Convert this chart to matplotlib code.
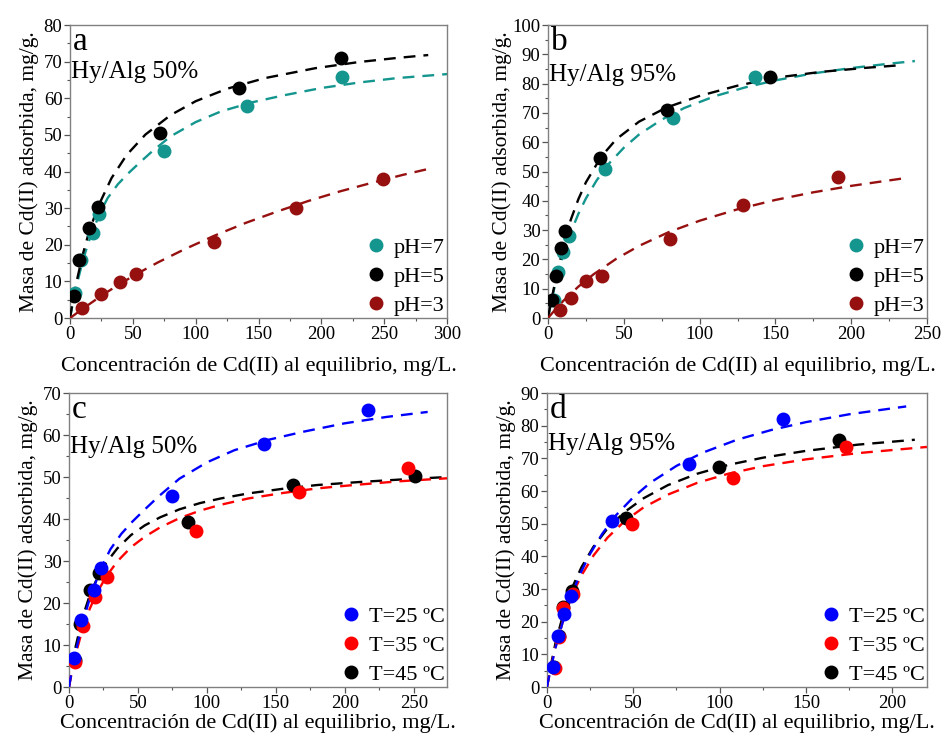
import matplotlib
matplotlib.use("Agg")
import matplotlib.pyplot as plt
from matplotlib.lines import Line2D
from matplotlib.ticker import MultipleLocator

plt.rcParams['font.family'] = ['Liberation Serif', 'DejaVu Serif']

# --- datos experimentales: Ce (mg/L) y qe (mg/g) ---
# Hy/Alg 50 %, efecto del pH (T = 25 ºC)
ce_50_ph7 = [3.6, 8.9, 18.0, 23.3, 74.6, 141.0, 216.4]
qe_50_ph7 = [6.8, 15.9, 23.1, 28.4, 45.5, 57.9, 65.9]
ce_50_ph5 = [3.2, 7.2, 15.4, 22.0, 71.6, 134.7, 215.3]
qe_50_ph5 = [6.1, 15.8, 24.7, 30.4, 50.6, 62.8, 70.9]
ce_50_ph3 = [9.3, 24.4, 39.8, 52.3, 114.6, 179.8, 248.8]
qe_50_ph3 = [2.6, 6.6, 9.9, 11.9, 20.8, 30.0, 38.0]

# Hy/Alg 95 %, efecto del pH
ce_95_ph7 = [3.7, 6.6, 9.8, 13.7, 37.5, 82.5, 136.6]
qe_95_ph7 = [6.2, 15.6, 22.5, 28.0, 50.7, 68.4, 82.2]
ce_95_ph5 = [2.6, 5.5, 8.7, 11.5, 34.3, 78.3, 146.4]
qe_95_ph5 = [6.0, 14.3, 23.8, 29.7, 54.7, 71.0, 82.3]
ce_95_ph3 = [7.9, 15.2, 25.1, 35.6, 80.5, 128.8, 191.5]
qe_95_ph3 = [2.7, 6.7, 12.6, 14.3, 26.8, 38.5, 48.0]

# Hy/Alg 50 %, efecto de la temperatura (pH = 7)
ce_50_t25, qe_50_t25 = ce_50_ph7, qe_50_ph7
ce_50_t35 = [4.3, 10.0, 18.9, 27.4, 92.0, 166.4, 245.9]
qe_50_t35 = [6.0, 14.6, 21.5, 26.2, 37.2, 46.4, 52.2]
ce_50_t45 = [4.0, 8.0, 15.5, 22.0, 86.5, 162.6, 250.8]
qe_50_t45 = [6.5, 14.9, 23.1, 27.2, 39.4, 48.1, 50.2]

# Hy/Alg 95 %, efecto de la temperatura
ce_95_t25, qe_95_t25 = ce_95_ph7, qe_95_ph7
ce_95_t35 = [4.6, 7.0, 9.5, 15.2, 49.3, 107.9, 173.1]
qe_95_t35 = [5.7, 15.2, 24.1, 28.5, 50.0, 63.9, 73.6]
ce_95_t45 = [4.0, 7.0, 9.4, 14.3, 45.7, 99.8, 169.1]
qe_95_t45 = [6.0, 15.5, 24.6, 29.3, 51.6, 67.4, 75.6]

# --- curvas de ajuste (isotermas) ---
fit_50_ph7_c = [0, 3, 6, 10, 15, 20, 25, 30, 38, 46, 55, 65, 80, 100, 120, 145, 170, 200, 230, 260, 300]
fit_50_ph7_q = [0, 5.5, 10, 15.5, 21, 25.5, 29.5, 32.8, 36.5, 39.4, 42.3, 45.4, 49.6, 53.5, 56.4, 58.9, 60.8, 62.8, 64.3, 65.5, 66.6]
fit_50_ph5_c = [0, 2, 5, 10, 15, 22, 33, 45, 60, 80, 100, 125, 155, 195, 230, 260, 285]
fit_50_ph5_q = [0, 4.2, 9.6, 17.2, 23.4, 30.2, 38.2, 44.5, 50.1, 55.4, 59.2, 62.6, 65.5, 68.2, 69.9, 71.0, 71.8]
fit_50_ph3_c = [0, 10, 25, 40, 55, 70, 90, 115, 140, 165, 190, 215, 240, 265, 285]
fit_50_ph3_q = [0, 2.5, 6.1, 9.4, 12.4, 15.2, 18.6, 22.5, 26.0, 29.1, 32.0, 34.6, 36.9, 39.1, 40.7]

fit_95_ph7_c = [0, 2, 5, 10, 15, 20, 25, 32, 40, 50, 60, 75, 90, 110, 130, 150, 175, 200, 225, 242]
fit_95_ph7_q = [0, 5.2, 12.1, 21.5, 29.2, 35.5, 40.8, 46.9, 52.6, 58.1, 62.6, 67.7, 71.7, 75.7, 78.7, 81.1, 83.5, 85.3, 86.8, 87.7]
fit_95_ph5_c = [0, 2, 5, 10, 15, 20, 25, 35, 45, 60, 78, 100, 125, 150, 180, 210, 233]
fit_95_ph5_q = [0, 5.5, 13, 24, 33.5, 40.5, 46.3, 55, 61, 67, 71.8, 75.8, 79.3, 82, 84.0, 85.4, 86.3]
fit_95_ph3_c = [0, 5, 10, 20, 30, 45, 60, 80, 100, 125, 150, 175, 200, 220, 235]
fit_95_ph3_q = [0, 3.0, 5.8, 10.7, 14.9, 20.2, 24.6, 29.4, 33.2, 37.1, 40.3, 42.9, 45.1, 46.6, 47.7]

fit_50_t25_c = fit_50_ph7_c[:-1]
fit_50_t25_q = fit_50_ph7_q[:-1]
fit_50_t35_c = [0, 2, 5, 10, 15, 20, 27, 35, 45, 55, 66, 80, 95, 110, 130, 155, 180, 210, 240, 274]
fit_50_t35_q = [0, 3.5, 8.0, 14.0, 18.6, 22.3, 26.3, 29.9, 33.3, 35.8, 38.0, 40.2, 42.0, 43.4, 44.9, 46.2, 47.3, 48.2, 49.0, 49.7]
fit_50_t45_c = fit_50_t35_c
fit_50_t45_q = [0, 4.5, 9.9, 16.8, 21.8, 25.6, 29.6, 33.0, 36.2, 38.5, 40.4, 42.3, 43.8, 44.9, 46.1, 47.2, 48.1, 48.8, 49.4, 50.0]

fit_95_t25_c = [0, 2, 5, 10, 15, 20, 25, 32, 40, 50, 60, 75, 90, 110, 130, 150, 175, 208]
fit_95_t25_q = [0, 5.2, 12.1, 21.5, 29.2, 35.5, 40.8, 46.9, 52.6, 58.1, 62.6, 67.7, 71.7, 75.7, 78.7, 81.1, 83.5, 85.9]
fit_95_t35_c = [0, 2, 5, 10, 15, 20, 27, 35, 45, 56, 70, 87, 105, 125, 150, 180, 220]
fit_95_t35_q = [0, 5.4, 12.4, 21.5, 28.6, 34.2, 40.3, 45.7, 50.8, 55.0, 58.9, 62.5, 65.3, 67.6, 69.7, 71.6, 73.5]
fit_95_t45_c = [0, 2, 5, 10, 15, 20, 27, 35, 45, 56, 70, 87, 105, 125, 150, 180, 213]
fit_95_t45_q = [0, 6.0, 13.6, 23.4, 30.9, 36.7, 43.0, 48.5, 53.6, 57.8, 61.8, 65.3, 68.0, 70.2, 72.3, 74.2, 75.7]

TEAL = '#14968f'
DARKRED = '#961010'
BLUE = '#0000ff'
RED = '#ff0000'
BLACK = '#000000'

xlabel = 'Concentración de Cd(II) al equilibrio, mg/L.'
ylabel = 'Masa de Cd(II) adsorbida, mg/g.'

fig = plt.figure(figsize=(9.44, 7.42), dpi=100)
ax_a = fig.add_axes([0.0742, 0.5714, 0.3994, 0.3949])
ax_b = fig.add_axes([0.5805, 0.5714, 0.4015, 0.3949])
ax_c = fig.add_axes([0.0731, 0.0741, 0.4004, 0.3962])
ax_d = fig.add_axes([0.5794, 0.0741, 0.4025, 0.3962])

# eje, letra, rotulo, xlim, ylim, paso x, posicion del rotulo, pad x, pad y
panels = [
    (ax_a, 'a', 'Hy/Alg 50%', (0, 300), (0, 80), 50, 0.84, 10, 3,
     [(fit_50_ph7_c, fit_50_ph7_q, ce_50_ph7, qe_50_ph7, TEAL, 'pH=7'),
      (fit_50_ph5_c, fit_50_ph5_q, ce_50_ph5, qe_50_ph5, BLACK, 'pH=5'),
      (fit_50_ph3_c, fit_50_ph3_q, ce_50_ph3, qe_50_ph3, DARKRED, 'pH=3')],
     [0, 1, 2]),
    (ax_b, 'b', 'Hy/Alg 95%', (0, 250), (0, 100), 50, 0.83, 10, 0,
     [(fit_95_ph7_c, fit_95_ph7_q, ce_95_ph7, qe_95_ph7, TEAL, 'pH=7'),
      (fit_95_ph5_c, fit_95_ph5_q, ce_95_ph5, qe_95_ph5, BLACK, 'pH=5'),
      (fit_95_ph3_c, fit_95_ph3_q, ce_95_ph3, qe_95_ph3, DARKRED, 'pH=3')],
     [0, 1, 2]),
    (ax_c, 'c', 'Hy/Alg 50%', (0, 274), (0, 70), 50, 0.816, 1, 3,
     [(fit_50_t25_c, fit_50_t25_q, ce_50_t25, qe_50_t25, BLUE, 'T=25 ºC'),
      (fit_50_t35_c, fit_50_t35_q, ce_50_t35, qe_50_t35, RED, 'T=35 ºC'),
      (fit_50_t45_c, fit_50_t45_q, ce_50_t45, qe_50_t45, BLACK, 'T=45 ºC')],
     [2, 1, 0]),
    (ax_d, 'd', 'Hy/Alg 95%', (0, 220), (0, 90), 50, 0.827, 1, 3,
     [(fit_95_t25_c, fit_95_t25_q, ce_95_t25, qe_95_t25, BLUE, 'T=25 ºC'),
      (fit_95_t35_c, fit_95_t35_q, ce_95_t35, qe_95_t35, RED, 'T=35 ºC'),
      (fit_95_t45_c, fit_95_t45_q, ce_95_t45, qe_95_t45, BLACK, 'T=45 ºC')],
     [2, 1, 0]),
]

for (ax, letter, tag, xlim, ylim, xstep, tag_y, xpad, ypad,
     series, order) in panels:
    # orden de dibujo: la ultima serie queda encima
    for k, idx in enumerate(order):
        fc, fq, ce, qe, col, lab = series[idx]
        ax.plot(fc, fq, ls=(0, (5, 3.4)), lw=1.7, color=col, zorder=2 + k)
        ax.plot(ce, qe, 'o', ms=9, color=col, mec=col, zorder=10 + k)
    handles = [Line2D([], [], ls='none', marker='o', ms=9, color=s[4],
                      label=s[5]) for s in series]

    ax.set_xlim(*xlim)
    ax.set_ylim(*ylim)
    ax.xaxis.set_major_locator(MultipleLocator(xstep))
    ax.xaxis.set_minor_locator(MultipleLocator(xstep / 2))
    ax.yaxis.set_major_locator(MultipleLocator(10))
    ax.yaxis.set_minor_locator(MultipleLocator(5))
    ax.tick_params(which='both', direction='out', color='#555555',
                   labelsize=13.5, top=False, right=False)
    ax.tick_params(which='major', length=4, width=0.9, pad=1.5)
    ax.tick_params(which='minor', length=2.3, width=0.8)
    for sp in ax.spines.values():
        sp.set_color('#808080')
        sp.set_linewidth(1.0)

    ax.set_xlabel(xlabel, fontsize=16, labelpad=xpad)
    ax.set_ylabel(ylabel, fontsize=15.5, labelpad=ypad)

    ax.text(0.008, 0.995, letter, transform=ax.transAxes, ha='left', va='top',
            fontsize=24)
    ax.text(0.002, tag_y, tag, transform=ax.transAxes, ha='left',
            va='center', fontsize=18)

    ax.legend(handles=handles, loc='lower right', frameon=False, fontsize=16,
              handlelength=0.8, handletextpad=0.4, labelspacing=0.38,
              borderaxespad=0.0, borderpad=0.1)

fig.savefig('out.png', dpi=100)
